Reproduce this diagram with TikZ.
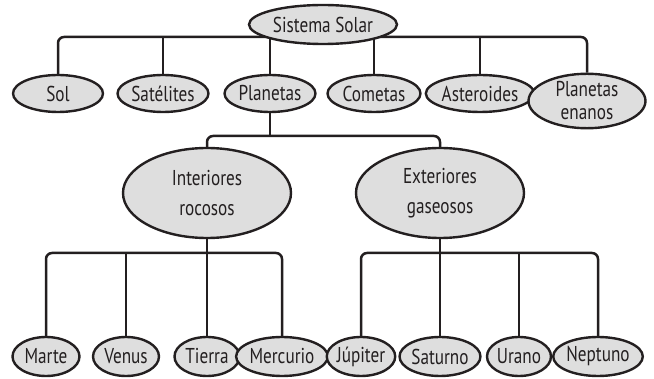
\documentclass[tikz,border=0pt]{standalone}
\usepackage{fontspec}
\setmainfont{PT Sans}[FakeStretch=0.8]
\usetikzlibrary{shapes.geometric,backgrounds}
\definecolor{ink}{RGB}{35,31,32}
\definecolor{bubble}{RGB}{222,222,222}
\tikzset{
  bubble/.style={ellipse, draw=ink, fill=bubble, line width=2.4pt, inner sep=0pt,
    text=ink, font=\fontsize{21.5}{21}\selectfont, align=center},
  link/.style={draw=ink, line width=2.5pt, rounded corners=6pt}
}
\begin{document}
\begin{tikzpicture}[x=1pt,y=-1pt]
\useasboundingbox (0,0) rectangle (654,379);
% root
\node[bubble, minimum width=148, minimum height=39] (ss) at (323,24.5) {Sistema Solar};
% first level
\node[bubble, minimum width=90, minimum height=37] (sol) at (58,93.5) {Sol};
\node[bubble, minimum width=91, minimum height=37] (sat) at (163,93.5) {Satélites};
\node[bubble, minimum width=91, minimum height=37] (pla) at (270,93.5) {Planetas};
\node[bubble, minimum width=93, minimum height=37] (com) at (374,93.5) {Cometas};
\node[bubble, minimum width=90, minimum height=37] (ast) at (480,93.5) {Asteroides};
\node[bubble, minimum width=117, minimum height=52] (ena) at (587,101) {Planetas\\[2pt]enanos};
% planet groups
\node[bubble, minimum width=168, minimum height=90] (int) at (207,193) {Interiores\\[9pt]rocosos};
\node[bubble, minimum width=168, minimum height=90] (ext) at (440,193) {Exteriores\\[9pt]gaseosos};
% planets
\node[bubble, minimum width=67, minimum height=39] (mar) at (46,356.5) {Marte};
\node[bubble, minimum width=66, minimum height=39] (ven) at (126,356.5) {Venus};
\node[bubble, minimum width=65, minimum height=39] (tie) at (207,356.5) {Tierra};
\node[bubble, minimum width=72, minimum height=39] (mer) at (282,356.5) {Mercurio};
\node[bubble, minimum width=64, minimum height=39] (jup) at (361,356.5) {Júpiter};
\node[bubble, minimum width=66, minimum height=39] (sa2) at (440,356.5) {Saturno};
\node[bubble, minimum width=64, minimum height=39] (ura) at (519,356.5) {Urano};
\node[bubble, minimum width=72, minimum height=39] (nep) at (598,356.5) {Neptuno};
% bar heights
\coordinate (bar1) at (0,37);
\coordinate (bar2) at (0,136);
\coordinate (bar3) at (0,253);
\begin{scope}[on background layer]
  % top level
  \draw[link] (sol.north) -- (sol.north |- bar1) -- (ena.north |- bar1) -- (ena.north);
  \foreach \n in {sat,pla,com,ast} \draw[link] (\n.north) -- (\n.north |- bar1);
  % planets split
  \draw[link] (pla.south) -- (pla.south |- bar2);
  \draw[link] (int.north) -- (int.north |- bar2) -- (ext.north |- bar2) -- (ext.north);
  % inner planets
  \draw[link] (mar.north) -- (mar.north |- bar3) -- (mer.north |- bar3) -- (mer.north);
  \draw[link] (int.south) -- (tie.north);
  \draw[link] (ven.north) -- (ven.north |- bar3);
  % outer planets
  \draw[link] (jup.north) -- (jup.north |- bar3) -- (nep.north |- bar3) -- (nep.north);
  \draw[link] (ext.south) -- (sa2.north);
  \draw[link] (ura.north) -- (ura.north |- bar3);
\end{scope}
\end{tikzpicture}
\end{document}
